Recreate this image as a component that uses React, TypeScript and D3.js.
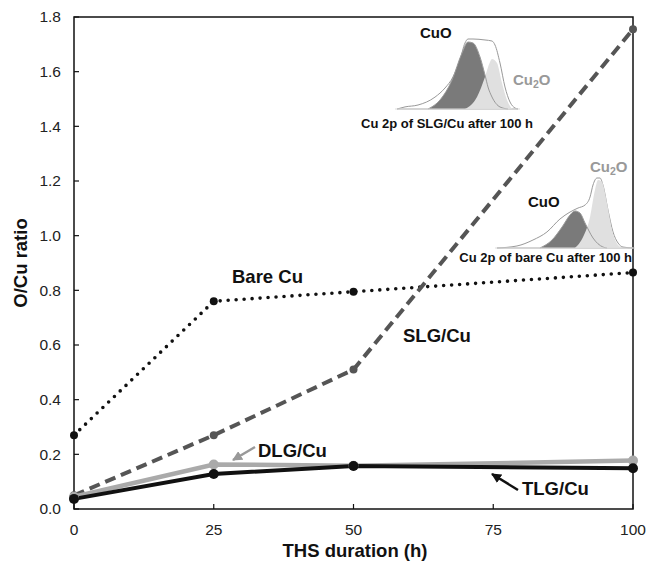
import * as d3 from "d3";

// THS duration (h) and O/Cu ratio
const hours = [0, 25, 50, 100];
const bareCu = [0.27, 0.76, 0.795, 0.865];
const slgCu = [0.05, 0.27, 0.51, 1.755];
const dlgCu = [0.045, 0.163, 0.158, 0.177];
const tlgCu = [0.037, 0.128, 0.157, 0.149];

const xTicks = [0, 25, 50, 75, 100];
const yTicks = [0, 0.2, 0.4, 0.6, 0.8, 1.0, 1.2, 1.4, 1.6, 1.8];

// XPS inset curves, normalized [energy position, intensity]
const slgEnvelope: [number, number][] = [
  [0.016, 0], [0.08, 0.03], [0.184, 0.057], [0.32, 0.17], [0.4, 0.3], [0.464, 0.457],
  [0.52, 0.7], [0.56, 0.943], [0.584, 1], [0.624, 1], [0.72, 0.986], [0.776, 0.971],
  [0.8, 0.914], [0.84, 0.657], [0.88, 0.314], [0.92, 0.1], [0.96, 0.014], [0.984, 0],
];
const slgCuO: [number, number][] = [
  [0.264, 0], [0.36, 0.129], [0.456, 0.414], [0.536, 0.8], [0.584, 0.957], [0.624, 0.943],
  [0.68, 0.743], [0.72, 0.486], [0.744, 0.314], [0.776, 0.171], [0.84, 0.029], [0.904, 0],
];
const slgCu2O: [number, number][] = [
  [0.56, 0], [0.656, 0.171], [0.72, 0.457], [0.76, 0.671], [0.776, 0.714], [0.816, 0.657],
  [0.856, 0.371], [0.896, 0.129], [0.936, 0],
];
const bareEnvelope: [number, number][] = [
  [0.014, 0], [0.157, 0.029], [0.271, 0.114], [0.371, 0.229], [0.464, 0.414], [0.536, 0.514],
  [0.593, 0.571], [0.643, 0.614], [0.679, 0.729], [0.7, 0.9], [0.729, 1], [0.75, 1],
  [0.771, 0.9], [0.807, 0.543], [0.843, 0.229], [0.879, 0.071], [0.914, 0.014], [0.986, 0],
];
const bareCuO: [number, number][] = [
  [0.321, 0], [0.407, 0.114], [0.479, 0.3], [0.536, 0.471], [0.571, 0.529], [0.607, 0.5],
  [0.643, 0.357], [0.7, 0.143], [0.771, 0.014], [0.8, 0],
];
const bareCu2O: [number, number][] = [
  [0.571, 0], [0.629, 0.157], [0.679, 0.443], [0.714, 0.829], [0.736, 0.971], [0.764, 0.943],
  [0.8, 0.643], [0.836, 0.257], [0.879, 0.043], [0.914, 0],
];

const W = 648;
const H = 564;
const left = 74, right = 633, top = 17, bottom = 509;
const font = "'Liberation Sans', Arial, sans-serif";

function Inset({ x0, width, base, height, env, cuo, cu2o }: any) {
  const ix = d3.scaleLinear().domain([0, 1]).range([x0, x0 + width]);
  const iy = d3.scaleLinear().domain([0, 1]).range([base, base - height]);
  const line = d3.line<[number, number]>().x(d => ix(d[0])).y(d => iy(d[1])).curve(d3.curveMonotoneX);
  return (
    <g>
      <path d={line(env) + "Z"} fill="#fff" stroke="#999" strokeWidth={1} />
      <path d={line(cuo) + "Z"} fill="#7a7a7a" stroke="none" />
      <path d={line(cu2o) + "Z"} fill="#e0e0e0" stroke="none" />
      <path d={line(cuo) ?? ""} fill="none" stroke="#999" strokeWidth={1} />
      <line x1={ix(0)} x2={ix(1)} y1={base} y2={base} stroke="#ddd" strokeWidth={1} />
    </g>
  );
}

export default function App() {
  const x = d3.scaleLinear().domain([0, 100]).range([left, right]);
  const y = d3.scaleLinear().domain([0, 1.8]).range([bottom, top]);
  const line = d3.line<number>().x((d, i) => x(hours[i])).y(d => y(d));

  return (
    <div style={{ position: "absolute", left: 0, top: 0 }}>
      <svg width={W} height={H} style={{ display: "block", fontFamily: font }}>
        <defs>
          <marker id="ahGray" viewBox="0 0 10 10" refX="9" refY="5" markerWidth="4" markerHeight="4" orient="auto">
            <path d="M0,0 L10,5 L0,10 Z" fill="#999" />
          </marker>
          <marker id="ahBlack" viewBox="0 0 10 10" refX="9" refY="5" markerWidth="4" markerHeight="4" orient="auto">
            <path d="M0,0 L10,5 L0,10 Z" fill="#111" />
          </marker>
        </defs>
        <rect width={W} height={H} fill="#fff" />

        {/* frame + inward ticks */}
        <rect x={left} y={top} width={right - left} height={bottom - top} fill="none" stroke="#111" strokeWidth={1.5} />
        {yTicks.map(t => (
          <g key={"y" + t}>
            <line x1={left} x2={left + 5} y1={y(t)} y2={y(t)} stroke="#111" strokeWidth={1.2} />
            <text x={61} y={y(t)} dy="0.35em" textAnchor="end" fontSize={15.5} fill="#222">{t.toFixed(1)}</text>
          </g>
        ))}
        {xTicks.map(t => (
          <g key={"x" + t}>
            <line x1={x(t)} x2={x(t)} y1={bottom} y2={bottom - 5} stroke="#111" strokeWidth={1.2} />
            <text x={x(t)} y={535} textAnchor="middle" fontSize={15.5} fill="#222">{t}</text>
          </g>
        ))}
        <text x={355} y={557} textAnchor="middle" fontSize={18.5} fontWeight="bold" fill="#111">THS duration (h)</text>
        <text transform={`translate(27,${(top + bottom) / 2}) rotate(-90)`} textAnchor="middle" fontSize={18.5} fontWeight="bold" fill="#111">O/Cu ratio</text>

        {/* insets */}
        <Inset x0={395} width={125} base={109} height={70} env={slgEnvelope} cuo={slgCuO} cu2o={slgCu2O} />
        <Inset x0={495} width={140} base={248} height={70} env={bareEnvelope} cuo={bareCuO} cu2o={bareCu2O} />
        <text x={420} y={38} fontSize={15} fontWeight="bold" fill="#111">CuO</text>
        <text x={513} y={85} fontSize={15} fontWeight="bold" fill="#999">Cu<tspan fontSize={10.5} dy={3}>2</tspan><tspan dy={-3}>O</tspan></text>
        <text x={533} y={128} textAnchor="end" fontSize={13} fontWeight="bold" fill="#111">Cu 2p of SLG/Cu after 100 h</text>
        <text x={528} y={207} fontSize={15} fontWeight="bold" fill="#111">CuO</text>
        <text x={590} y={172} fontSize={15} fontWeight="bold" fill="#999">Cu<tspan fontSize={10.5} dy={3}>2</tspan><tspan dy={-3}>O</tspan></text>
        <text x={632} y={262} textAnchor="end" fontSize={13} fontWeight="bold" fill="#111">Cu 2p of bare Cu after 100 h</text>

        {/* series */}
        <path d={line(bareCu) ?? ""} fill="none" stroke="#111" strokeWidth={3.6} strokeDasharray="0 8" strokeLinecap="round" />
        <path d={line(slgCu) ?? ""} fill="none" stroke="#555" strokeWidth={4} strokeDasharray="11 6" />
        <path d={line(dlgCu) ?? ""} fill="none" stroke="#aaa" strokeWidth={4.5} />
        <path d={line(tlgCu) ?? ""} fill="none" stroke="#111" strokeWidth={4} />
        {bareCu.map((d, i) => <circle key={"b" + i} cx={x(hours[i])} cy={y(d)} r={4} fill="#111" />)}
        {slgCu.map((d, i) => <circle key={"s" + i} cx={x(hours[i])} cy={y(d)} r={4} fill="#555" />)}
        {dlgCu.map((d, i) => <circle key={"d" + i} cx={x(hours[i])} cy={y(d)} r={5} fill="#aaa" />)}
        {tlgCu.map((d, i) => <circle key={"t" + i} cx={x(hours[i])} cy={y(d)} r={5} fill="#111" />)}

        {/* labels */}
        <text x={232} y={283} fontSize={18.5} fontWeight="bold" fill="#111">Bare Cu</text>
        <text x={403} y={342} fontSize={18.5} fontWeight="bold" fill="#111">SLG/Cu</text>
        <text x={258} y={457} fontSize={18.5} fontWeight="bold" fill="#111">DLG/Cu</text>
        <text x={522} y={495} fontSize={18.5} fontWeight="bold" fill="#111">TLG/Cu</text>
        <line x1={255} y1={447} x2={233} y2={460} stroke="#999" strokeWidth={2.5} markerEnd="url(#ahGray)" />
        <line x1={518} y1={490} x2={492} y2={474} stroke="#111" strokeWidth={2.5} markerEnd="url(#ahBlack)" />
      </svg>
    </div>
  );
}
